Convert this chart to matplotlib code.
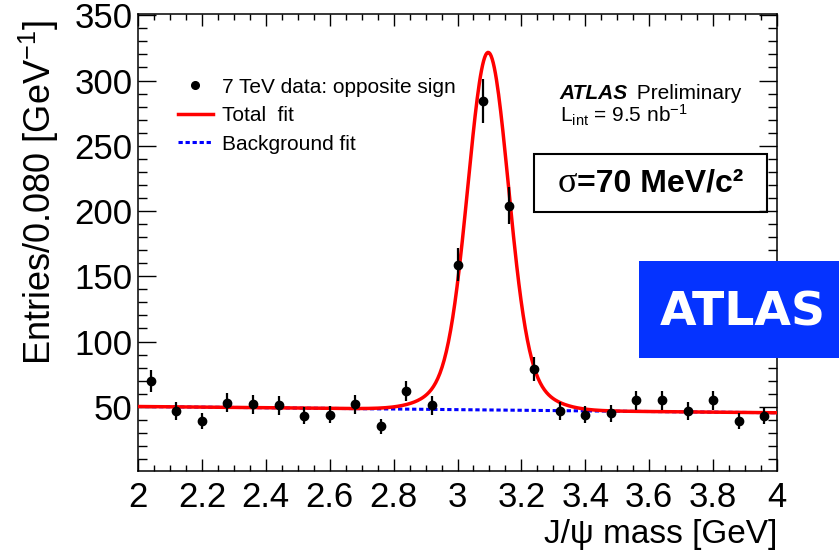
import numpy as np
import matplotlib
matplotlib.use("Agg")
import matplotlib.pyplot as plt
from matplotlib.lines import Line2D
from matplotlib.patches import Rectangle
from matplotlib.ticker import MultipleLocator, FuncFormatter
from matplotlib.offsetbox import TextArea, HPacker, AnnotationBbox

plt.rcParams['font.family'] = ['Liberation Sans', 'DejaVu Sans']
plt.rcParams['mathtext.fontset'] = 'custom'
plt.rcParams['mathtext.rm'] = 'Liberation Sans'
plt.rcParams['mathtext.it'] = 'Liberation Sans:italic'
plt.rcParams['mathtext.bf'] = 'Liberation Sans:bold'

# opposite-sign dimuon candidates, 80 MeV bins between 2 and 4 GeV
mass_bins = [2.04, 2.12, 2.20, 2.28, 2.36, 2.44, 2.52, 2.60, 2.68, 2.76,
             2.84, 2.92, 3.00, 3.08, 3.16, 3.24, 3.32, 3.40, 3.48, 3.56,
             3.64, 3.72, 3.80, 3.88, 3.96]
entries = [70, 47, 39, 53, 52, 51, 43, 44, 52, 35,
           62, 51, 159, 284, 204, 79, 47, 44, 45, 55,
           55, 47, 55, 39, 43]

# fit parameters: linear background + J/psi peak (narrow core + wider tail)
bkg_at_2 = 50.2
bkg_slope = -2.4
peak_mean = 3.096
core_amp, core_sigma = 240.0, 0.062
tail_amp, tail_sigma = 34.0, 0.12

entries = np.array(entries, dtype=float)
errors = np.sqrt(entries)

m = np.linspace(2.0, 4.0, 600)
bkg = bkg_at_2 + bkg_slope * (m - 2.0)
signal = (core_amp * np.exp(-0.5 * ((m - peak_mean) / core_sigma) ** 2)
          + tail_amp * np.exp(-0.5 * ((m - peak_mean) / tail_sigma) ** 2))
total = bkg + signal

fig = plt.figure(figsize=(8.39, 5.55), dpi=100)
ax = fig.add_axes([0.1645, 0.1514, 0.7616, 0.8234])

ax.plot(m, bkg, color='blue', lw=2.2, dashes=(1.4, 0.9), zorder=2)
ax.plot(m, total, color='red', lw=2.5, zorder=3)
ax.errorbar(mass_bins, entries, yerr=errors, fmt='o', color='black',
            ms=6, elinewidth=1.6, capsize=0, zorder=4)

ax.set_xlim(2.0, 4.0)
ax.set_ylim(0.8, 351)
ax.xaxis.set_major_locator(MultipleLocator(0.2))
ax.xaxis.set_minor_locator(MultipleLocator(0.05))
ax.yaxis.set_major_locator(MultipleLocator(50))
ax.yaxis.set_minor_locator(MultipleLocator(10))
ax.xaxis.set_major_formatter(FuncFormatter(lambda v, p: f"{v:g}"))

for s in ax.spines.values():
    s.set_linewidth(1.1)
ax.tick_params(which='both', direction='in', top=True, right=True, width=1.0)
ax.tick_params(axis='y', which='major', length=13, labelsize=25, pad=4)
ax.tick_params(axis='y', which='minor', length=6.5)
ax.tick_params(axis='x', which='major', length=8.6, labelsize=25, pad=7)
ax.tick_params(axis='x', which='minor', length=4.3)

ax.set_ylabel('Entries/0.080 [GeV$^{-1}$]', fontsize=26)
ax.yaxis.set_label_coords(-0.121, 0.232)
ax.yaxis.label.set_ha('left')
ax.set_xlabel('J/ψ mass [GeV]', fontsize=24)
ax.xaxis.set_label_coords(1.0, -0.105)
ax.xaxis.label.set_ha('right')

h_data = Line2D([], [], marker='o', ls='none', color='black', ms=5.5)
h_total = Line2D([], [], color='red', lw=2.5)
h_bkg = Line2D([], [], color='blue', lw=2.2, dashes=(1.4, 0.9))
ax.legend([h_data, h_total, h_bkg],
          ['7 TeV data: opposite sign', 'Total  fit', 'Background fit'],
          loc='upper left', bbox_to_anchor=(0.0626, 0.861), frameon=False,
          fontsize=15, handlelength=1.67, handletextpad=0.43,
          labelspacing=0.46, borderpad=0, borderaxespad=0)

t = ax.text(0.660, 0.814, 'ATLAS', fontsize=15, fontweight='bold',
            style='italic', transform=ax.transAxes)
ax.annotate(' Preliminary', xy=(1, 0), xycoords=t, fontsize=15,
            va='bottom', xytext=(2, 0), textcoords='offset points')
ax.text(0.660, 0.7615, r'L$_{\rm int}$ = 9.5 nb$^{-1}$', fontsize=15,
        transform=ax.transAxes)

# resolution box
ax.add_patch(Rectangle((0.620, 0.567), 0.364, 0.127, transform=ax.transAxes,
                       fill=False, ec='black', lw=1.5, zorder=5))
sig = HPacker(children=[
    TextArea('σ', textprops=dict(family='Liberation Serif', fontsize=26)),
    TextArea('=70 MeV/c²', textprops=dict(fontweight='bold', fontsize=23)),
], align='baseline', pad=0, sep=0)
ax.add_artist(AnnotationBbox(sig, (0.802, 0.630), xycoords='axes fraction',
                             frameon=False, box_alignment=(0.5, 0.5)))

# experiment badge
fig.patches.append(Rectangle((0.7616, 0.355), 0.2384, 0.175,
                             transform=fig.transFigure, fc='#0533FF',
                             ec='none', zorder=10))
fig.text(0.885, 0.436, 'ATLAS', color='white', fontsize=34,
         fontweight='bold', family='DejaVu Sans', ha='center', va='center',
         zorder=11)

fig.savefig('out.png', dpi=100)
